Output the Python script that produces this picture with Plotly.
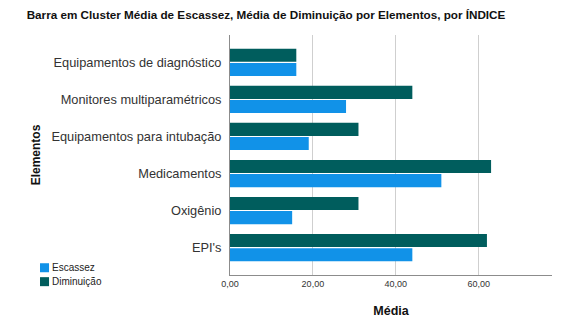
import plotly.graph_objects as go

# Categories (top to bottom) and mean values per indicator
elementos = [
    "Equipamentos de diagnóstico",
    "Monitores multiparamétricos",
    "Equipamentos para intubação",
    "Medicamentos",
    "Oxigênio",
    "EPI's",
]
escassez = [16, 28, 19, 51, 15, 44]
diminuicao = [16, 44, 31, 63, 31, 62]

cor_escassez = "#1192e8"
cor_diminuicao = "#005d5d"
fonte = "Liberation Sans, Arial, sans-serif"

fig = go.Figure()
fig.add_trace(go.Bar(
    y=elementos, x=diminuicao, name="Diminuição", orientation="h",
    marker=dict(color=cor_diminuicao, line=dict(width=0)), showlegend=False,
))
fig.add_trace(go.Bar(
    y=elementos, x=escassez, name="Escassez", orientation="h",
    marker=dict(color=cor_escassez, line=dict(width=0)), showlegend=False,
))

# Compact legend in the lower-left corner: small swatches plus labels
legenda = [("Escassez", cor_escassez), ("Diminuição", cor_diminuicao)]
sw_x0, sw_x1 = -0.590, -0.562
sw_top, sw_h, passo = 0.049, 0.0375, 0.058
for i, (nome, cor) in enumerate(legenda):
    topo = sw_top - i * passo
    fig.add_shape(
        type="rect", xref="paper", yref="paper",
        x0=sw_x0, x1=sw_x1, y0=topo - sw_h, y1=topo,
        fillcolor=cor, line=dict(width=0),
    )
    fig.add_annotation(
        xref="paper", yref="paper", x=sw_x1 + 0.004, y=topo - sw_h / 2,
        text=nome, showarrow=False, xanchor="left", yanchor="middle",
        font=dict(size=10, color="#222"),
    )

fig.update_layout(
    width=567, height=333,
    margin=dict(l=230, r=15, t=35, b=58),
    paper_bgcolor="white", plot_bgcolor="white",
    font=dict(family=fonte, color="#222"),
    separators=",.",
    barmode="group", bargap=0.234, bargroupgap=0.08,
    showlegend=False,
    title=dict(
        text="<b>Barra em Cluster Média de Escassez, Média de Diminuição por Elementos, por ÍNDICE</b>",
        x=266 / 567, xref="container", xanchor="center",
        y=1 - 15 / 333, yref="container", yanchor="middle",
        font=dict(size=11.7, color="#111"),
    ),
    xaxis=dict(
        range=[0, 77.7], tickvals=[0, 20, 40, 60], tickformat=".2f",
        showgrid=True, gridcolor="#cfcfcf", gridwidth=1,
        zeroline=False, showline=True, linecolor="#8c8c8c", linewidth=1,
        ticks="", tickfont=dict(size=9, color="#333"),
        title=dict(text="<b>Média</b>", font=dict(size=12.5, color="#111"), standoff=18),
    ),
    yaxis=dict(
        type="category", categoryorder="array", categoryarray=elementos,
        range=[5.74, -0.74],
        showgrid=False, zeroline=False, showline=True, linecolor="#8c8c8c", linewidth=1,
        ticks="", ticklabelstandoff=5, tickfont=dict(size=12.8, color="#333"),
        title=dict(text="<b>Elementos</b>", font=dict(size=12, color="#111"), standoff=8),
    ),
)

fig.write_html("out.html")
